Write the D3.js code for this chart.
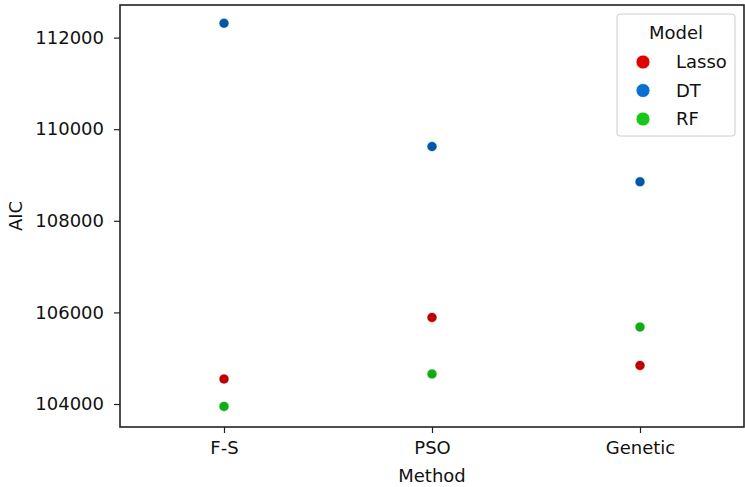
<!DOCTYPE html>
<html><head><meta charset="utf-8">
<script src="https://cdn.jsdelivr.net/npm/d3@7"></script>
<style>body{margin:0;background:#fff}svg{font-family:"DejaVu Sans",sans-serif}</style>
</head><body><svg id="c" width="745" height="487"></svg>
<script>
const methods = ["F-S", "PSO", "Genetic"];
const models = ["Lasso", "DT", "RF"];
const lassoAIC = [104545, 105890, 104842];
const dtAIC = [112313, 109621, 108851];
const rfAIC = [103948, 104655, 105680];
const yTicks = [104000, 106000, 108000, 110000, 112000];
const pointColors = {Lasso: "#c00000", DT: "#0059a8", RF: "#0fad0f"};
const legendColors = {Lasso: "#e00000", DT: "#0a6fd0", RF: "#18c818"};

const series = [
  {model: "Lasso", values: lassoAIC},
  {model: "DT", values: dtAIC},
  {model: "RF", values: rfAIC}
];

const svg = d3.select("#c");
const L = 120, R = 744, T = 5, B = 427;
const x = d3.scalePoint().domain(methods).range([L, R]).padding(0.5);
const y = d3.scaleLinear().domain([103498, 112712]).range([B, T]);

const fs = 18;
const yAxis = svg.append("g").attr("transform", `translate(${L},0)`)
  .call(d3.axisLeft(y).tickValues(yTicks).tickFormat(d3.format("d")).tickSize(6).tickPadding(10));
const xAxis = svg.append("g").attr("transform", `translate(0,${B})`)
  .call(d3.axisBottom(x).tickSize(6).tickPadding(8));
[yAxis, xAxis].forEach(a => {
  a.select(".domain").remove();
  a.selectAll("line").attr("stroke", "#222").attr("stroke-width", 1.2);
  a.selectAll("text").attr("font-size", fs).attr("fill", "#111").attr("font-family", "DejaVu Sans");
});
svg.append("rect").attr("x", L).attr("y", T).attr("width", R - L).attr("height", B - T)
  .attr("fill", "none").attr("stroke", "#222").attr("stroke-width", 1.6);

svg.append("text").attr("transform", `translate(22,${(T+B)/2}) rotate(-90)`)
  .attr("text-anchor", "middle").attr("font-size", fs).attr("fill", "#111").text("AIC");
svg.append("text").attr("x", (L+R)/2).attr("y", 482)
  .attr("text-anchor", "middle").attr("font-size", fs).attr("fill", "#111").text("Method");

series.forEach(s => {
  svg.append("g").selectAll("circle").data(s.values).join("circle")
    .attr("cx", (d, i) => x(methods[i])).attr("cy", d => y(d))
    .attr("r", 5).attr("fill", pointColors[s.model])
    .attr("stroke", "#fff").attr("stroke-width", 0.6);
});

// legend
const lg = svg.append("g");
lg.append("rect").attr("x", 617).attr("y", 14).attr("width", 118).attr("height", 122)
  .attr("rx", 3).attr("fill", "#fff").attr("stroke", "#ccc").attr("stroke-width", 1);
lg.append("text").attr("x", 676).attr("y", 39).attr("text-anchor", "middle")
  .attr("font-size", fs).attr("fill", "#111").text("Model");
models.forEach((m, i) => {
  const cy = 62 + i * 28.5;
  lg.append("circle").attr("cx", 643).attr("cy", cy).attr("r", 7).attr("fill", legendColors[m])
    .attr("stroke", "#fff").attr("stroke-width", 0.8);
  lg.append("text").attr("x", 676).attr("y", cy + 6).attr("font-size", fs).attr("fill", "#111").text(m);
});
</script></body></html>
